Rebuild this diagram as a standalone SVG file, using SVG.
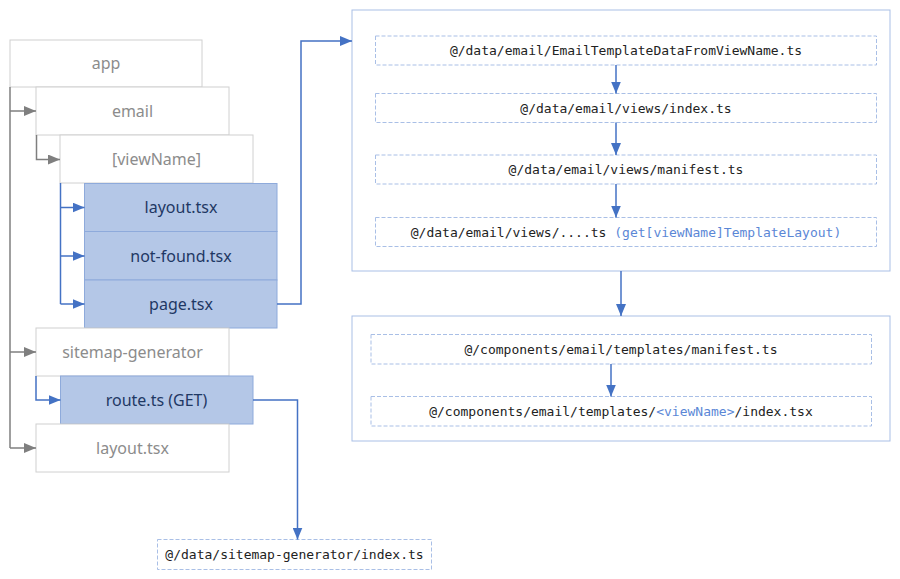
<svg xmlns="http://www.w3.org/2000/svg" width="900" height="579" viewBox="0 0 900 579">
<style>
.gbox{fill:#fff;stroke:#d0d0d0;stroke-width:1}
.bbox{fill:#b4c7e7;stroke:#8eaadb;stroke-width:1}
.cont{fill:#fff;stroke:#a9bfe6;stroke-width:1}
.dbox{fill:#fff;stroke:#a9bfe6;stroke-width:1;stroke-dasharray:4 2}
.gt{font-family:"Noto Sans","Open Sans",sans-serif;font-size:16px;fill:#8c8c8c;text-anchor:middle}
.bt{font-family:"Noto Sans","Open Sans",sans-serif;font-size:16px;fill:#1f3864;text-anchor:middle}
.mt{font-family:"DejaVu Sans Mono","Liberation Mono",monospace;font-size:13px;fill:#222;text-anchor:middle}
.hl{fill:#5b87d6}
.gl{fill:none;stroke:#7f7f7f;stroke-width:1.5}
.bl{fill:none;stroke:#4472c4;stroke-width:1.5}
</style>
<defs>
<marker id="ga" viewBox="0 0 12 10" refX="12" refY="5" markerWidth="12" markerHeight="10" markerUnits="userSpaceOnUse" orient="auto">
<path d="M0,0 L12,5 L0,10 z" fill="#7f7f7f"/>
</marker>
<marker id="ba" viewBox="0 0 12 10" refX="12" refY="5" markerWidth="12" markerHeight="10" markerUnits="userSpaceOnUse" orient="auto">
<path d="M0,0 L12,5 L0,10 z" fill="#4472c4"/>
</marker>
</defs>
<g id="app"><rect class="gbox" x="10" y="40" width="192" height="47"/><text class="gt" x="106" y="69">app</text></g>
<g id="email"><rect class="gbox" x="36" y="87" width="193" height="48"/><text class="gt" x="132.5" y="117">email</text></g>
<g id="viewName"><rect class="gbox" x="60" y="135" width="193" height="48"/><text class="gt" x="156.5" y="165">[viewName]</text></g>
<g id="layout"><rect class="bbox" x="84.5" y="183.5" width="192.5" height="48"/><text class="bt" x="181" y="213">layout.tsx</text></g>
<g id="notfound"><rect class="bbox" x="84.5" y="231.5" width="192.5" height="48.5"/><text class="bt" x="181" y="262">not-found.tsx</text></g>
<g id="page"><rect class="bbox" x="84.5" y="280" width="192.5" height="48"/><text class="bt" x="181" y="310">page.tsx</text></g>
<g id="sitemap"><rect class="gbox" x="36" y="328" width="193" height="48"/><text class="gt" x="132.5" y="358">sitemap-generator</text></g>
<g id="route"><rect class="bbox" x="60.5" y="376" width="192.5" height="48"/><text class="bt" x="156.5" y="406">route.ts (GET)</text></g>
<g id="rootlayout"><rect class="gbox" x="36" y="424" width="193" height="48"/><text class="gt" x="132.5" y="454">layout.tsx</text></g>

<g id="emailGroup"><rect class="cont" x="352" y="10" width="538" height="261"/></g>
<g id="n1"><rect class="dbox" x="375.5" y="36" width="501" height="29"/><text class="mt" x="626" y="55">@/data/email/EmailTemplateDataFromViewName.ts</text></g>
<g id="n2"><rect class="dbox" x="375.5" y="93.5" width="501" height="29"/><text class="mt" x="626" y="112.5">@/data/email/views/index.ts</text></g>
<g id="n3"><rect class="dbox" x="375.5" y="155" width="501" height="29"/><text class="mt" x="626" y="174">@/data/email/views/manifest.ts</text></g>
<g id="n4"><rect class="dbox" x="375.5" y="217.5" width="501" height="29"/><text class="mt" x="626" y="236.5">@/data/email/views/....ts <tspan class="hl">(get[viewName]TemplateLayout)</tspan></text></g>

<g id="templatesGroup"><rect class="cont" x="352" y="316" width="538" height="125"/></g>
<g id="n5"><rect class="dbox" x="371" y="334.5" width="500.5" height="29.5"/><text class="mt" x="621" y="354">@/components/email/templates/manifest.ts</text></g>
<g id="n6"><rect class="dbox" x="371" y="396.5" width="500.5" height="29.5"/><text class="mt" x="621" y="416">@/components/email/templates/<tspan class="hl">&lt;viewName&gt;</tspan>/index.tsx</text></g>

<g id="sitemapData"><rect class="dbox" x="157.5" y="539.5" width="274" height="30"/><text class="mt" x="294.5" y="559">@/data/sitemap-generator/index.ts</text></g>

<g id="connectors">
<path class="gl" d="M10,87 V448"/>
<path class="gl" d="M10,111 H36" marker-end="url(#ga)"/>
<path class="gl" d="M10,352 H36" marker-end="url(#ga)"/>
<path class="gl" d="M10,448 H36" marker-end="url(#ga)"/>
<path class="gl" d="M36.5,135 V159.5 H60" marker-end="url(#ga)"/>
<path class="bl" d="M60.5,183 V304"/>
<path class="bl" d="M60.5,207.5 H84.5" marker-end="url(#ba)"/>
<path class="bl" d="M60.5,256 H84.5" marker-end="url(#ba)"/>
<path class="bl" d="M60.5,304 H84.5" marker-end="url(#ba)"/>
<path class="bl" d="M36,376 V400 H60.5" marker-end="url(#ba)"/>
<path class="bl" d="M277,304 H301 V41 H352" marker-end="url(#ba)"/>
<path class="bl" d="M253,400 H297.5 V539.5" marker-end="url(#ba)"/>
<path class="bl" d="M616,65 V93.5" marker-end="url(#ba)"/>
<path class="bl" d="M616,122.5 V155" marker-end="url(#ba)"/>
<path class="bl" d="M616,184 V217.5" marker-end="url(#ba)"/>
<path class="bl" d="M621,271 V316" marker-end="url(#ba)"/>
<path class="bl" d="M611,364 V396.5" marker-end="url(#ba)"/>
</g>
</svg>
